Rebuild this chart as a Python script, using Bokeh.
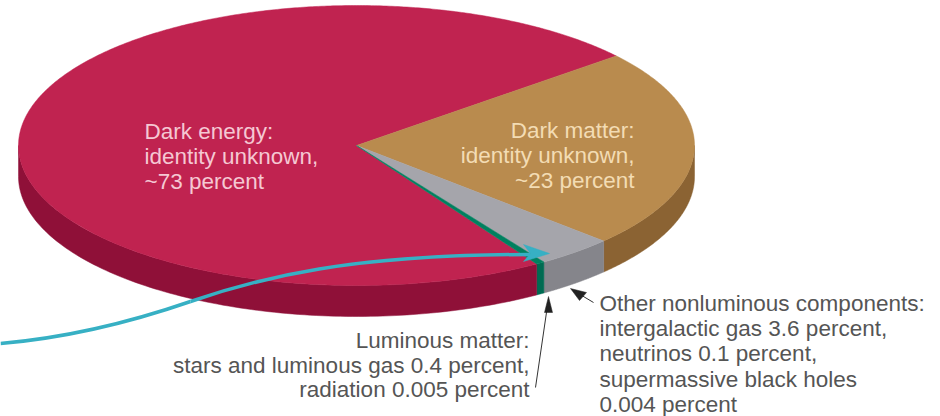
import numpy as np
from bokeh.core.properties import value
from bokeh.embed import file_html
from bokeh.models import ColumnDataSource, Range1d
from bokeh.plotting import figure
from bokeh.resources import INLINE

# Composition of the universe, in percent
components = ["Dark matter", "Other nonluminous components", "Luminous matter", "Dark energy"]
shares = [23.0, 3.704, 0.405, 72.891]
top_colors = ["#b98b4e", "#a5a5ab", "#00805f", "#c02350"]
rim_colors = ["#8b6333", "#85858b", "#006b52", "#8f1038"]

dark_energy_lines = ["Dark energy:", "identity unknown,", "~73 percent"]
dark_matter_lines = ["Dark matter:", "identity unknown,", "~23 percent"]
luminous_lines = ["Luminous matter:", "stars and luminous gas 0.4 percent,", "radiation 0.005 percent"]
other_lines = ["Other nonluminous components:", "intergalactic gas 3.6 percent,",
               "neutrinos 0.1 percent,", "supermassive black holes", "0.004 percent"]

# Disc geometry in page pixels
CX, CY, RX, RY, DEPTH = 356, 145, 338, 140, 31
START_DEG = 39.8


def rim_point(deg, drop=0.0):
    a = np.radians(deg)
    return CX + RX * np.cos(a), CY - RY * np.sin(a) + drop


p = figure(width=940, height=416, output_backend="svg", toolbar_location=None,
           x_range=Range1d(0, 940), y_range=Range1d(416, 0), min_border=0,
           background_fill_color="white", border_fill_color="white", outline_line_color=None)
p.axis.visible = False
p.grid.visible = False

# Slice boundaries run clockwise from the start angle
ends = START_DEG - np.cumsum(shares) * 3.6
starts = np.concatenate([[START_DEG], ends[:-1]])

# Rim: only the part of each slice on the near half of the disc shows
rim_xs, rim_ys, rim_fill = [], [], []
for s, e, col in zip(starts, ends, rim_colors):
    for lo, hi in [(-180, 0), (-540, -360)]:
        a1, a2 = min(s, hi), max(e, lo)
        if a1 <= a2:
            continue
        arc = np.linspace(a1, a2, 120)
        x1, y1 = rim_point(arc)
        x2, y2 = rim_point(arc[::-1], DEPTH)
        rim_xs.append(np.concatenate([x1, x2]))
        rim_ys.append(np.concatenate([y1, y2]))
        rim_fill.append(col)
p.patches(rim_xs, rim_ys, fill_color=rim_fill, line_color=rim_fill, line_width=0.5)

# Top face of the disc
top_xs, top_ys = [], []
for s, e in zip(starts, ends):
    arc = np.linspace(s, e, max(int(abs(s - e) * 2), 12))
    x, y = rim_point(arc)
    top_xs.append(np.concatenate([[CX], x]))
    top_ys.append(np.concatenate([[CY], y]))
order = [3, 0, 1, 2]
p.patches([top_xs[i] for i in order], [top_ys[i] for i in order],
          fill_color=[top_colors[i] for i in order],
          line_color=[top_colors[i] for i in order], line_width=0.5)


def text_block(lines, x, ys, color, align):
    src = ColumnDataSource(dict(x=[x] * len(lines), y=ys, t=lines))
    p.text("x", "y", text="t", source=src, text_font=value("Liberation Sans"),
           text_font_size="22.5px", text_color=color, text_align=align, text_baseline="middle")


text_block(dark_energy_lines, 144, [131, 156, 181], "#f5c8d3", "left")
text_block(dark_matter_lines, 634, [130, 155, 180], "#f3dcb4", "right")
text_block(luminous_lines, 529, [340, 365, 389], "#555555", "right")
text_block(other_lines, 599, [303, 328, 353, 379, 404], "#555555", "left")

# Pointer lines with small black heads
p.line([535, 547], [387, 305], line_color="#333333", line_width=1)
p.patch([548, 544, 552], [296, 312, 312], fill_color="#222222", line_color="#222222", line_width=0.5)
p.line([593, 578], [302, 293], line_color="#333333", line_width=1)
p.patch([570, 586, 579], [288, 292, 300], fill_color="#222222", line_color="#222222", line_width=0.5)

# Teal sweep arriving at the luminous slice
p.bezier(x0=[0, 190], y0=[343, 301], x1=[190, 530], y1=[301, 254],
         cx0=[70, 260], cy0=[337, 277], cx1=[135, 350], cy1=[320, 254],
         line_color="#37b0c4", line_width=3.5)
p.patch([549, 523, 530, 523], [253, 244, 253, 261], fill_color="#37b0c4", line_color="#37b0c4", line_width=0.5)

open("out.html", "w").write(file_html(p, INLINE))
